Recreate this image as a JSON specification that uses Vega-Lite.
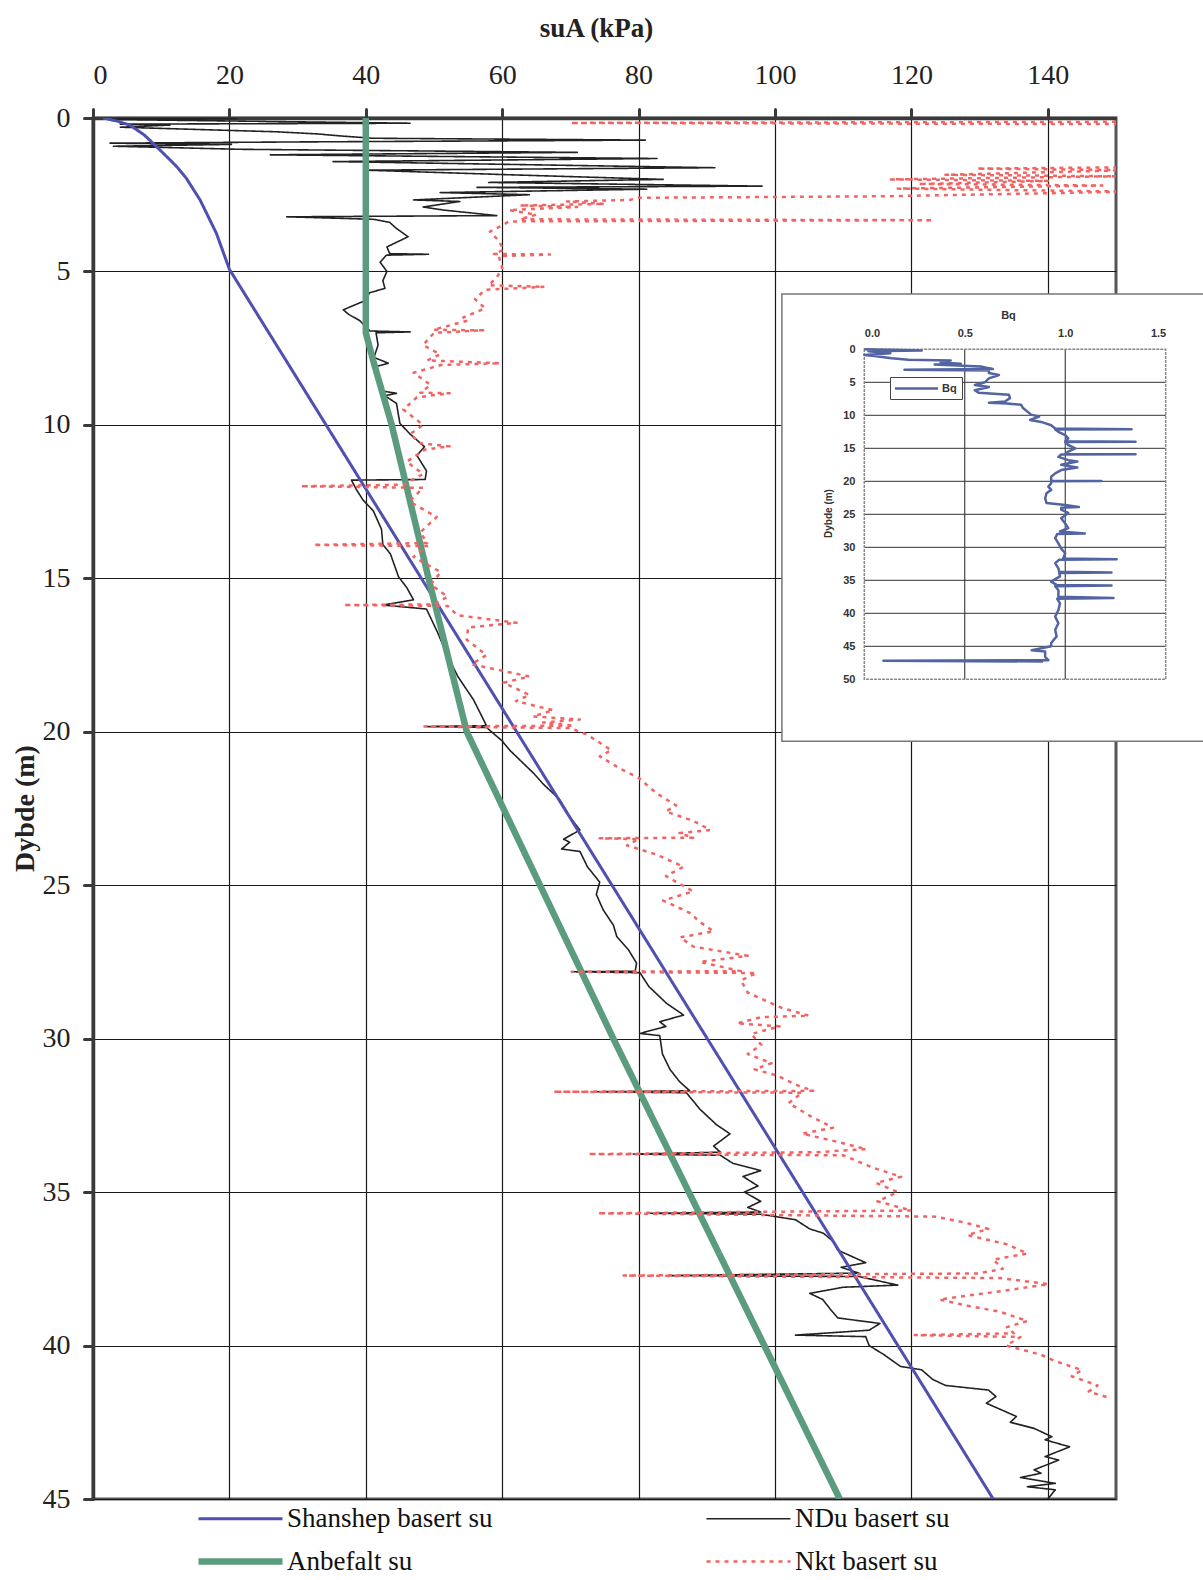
{
  "$schema": "https://vega.github.io/schema/vega-lite/v6.json",
  "autosize": {"type": "none"},
  "padding": {"left": 93, "top": 118, "right": 87, "bottom": 81},
  "width": 1023,
  "height": 1381,
  "background": "white",
  "config": {
    "view": {"stroke": "#555555", "strokeWidth": 3},
    "font": "Liberation Serif"
  },
  "resolve": {"scale": {"x": "independent", "y": "independent", "color": "independent", "strokeDash": "independent", "strokeWidth": "independent"}},
  "layer": [
    {
      "data": {"values": [
        {"k":"NDu basert su","su":2.5,"z":0},{"k":"NDu basert su","su":21,"z":0.02},{"k":"NDu basert su","su":3,"z":0.05},{"k":"NDu basert su","su":46.5,"z":0.17},{"k":"NDu basert su","su":4,"z":0.2},{"k":"NDu basert su","su":11.3,"z":0.23},{"k":"NDu basert su","su":4,"z":0.3},{"k":"NDu basert su","su":27,"z":0.45},{"k":"NDu basert su","su":33,"z":0.52},{"k":"NDu basert su","su":36,"z":0.58},{"k":"NDu basert su","su":41,"z":0.66},{"k":"NDu basert su","su":81,"z":0.72},{"k":"NDu basert su","su":30,"z":0.78},{"k":"NDu basert su","su":2.5,"z":0.82},{"k":"NDu basert su","su":20.3,"z":0.86},{"k":"NDu basert su","su":3,"z":0.92},{"k":"NDu basert su","su":21.6,"z":1.02},{"k":"NDu basert su","su":71,"z":1.12},{"k":"NDu basert su","su":26,"z":1.2},{"k":"NDu basert su","su":82.7,"z":1.32},{"k":"NDu basert su","su":35.2,"z":1.42},{"k":"NDu basert su","su":91.2,"z":1.62},{"k":"NDu basert su","su":40,"z":1.7},{"k":"NDu basert su","su":61.1,"z":1.85},{"k":"NDu basert su","su":83.6,"z":2.0},{"k":"NDu basert su","su":58,"z":2.1},{"k":"NDu basert su","su":98.1,"z":2.22},{"k":"NDu basert su","su":56.3,"z":2.26},{"k":"NDu basert su","su":81.2,"z":2.32},{"k":"NDu basert su","su":50.9,"z":2.43},{"k":"NDu basert su","su":64,"z":2.5},{"k":"NDu basert su","su":47,"z":2.67},{"k":"NDu basert su","su":53.8,"z":2.72},{"k":"NDu basert su","su":48.4,"z":2.9},{"k":"NDu basert su","su":51.4,"z":3.0},{"k":"NDu basert su","su":59.2,"z":3.18},{"k":"NDu basert su","su":28.4,"z":3.22},{"k":"NDu basert su","su":41.1,"z":3.3},{"k":"NDu basert su","su":43.5,"z":3.4},{"k":"NDu basert su","su":44.5,"z":3.6},{"k":"NDu basert su","su":46.2,"z":3.87},{"k":"NDu basert su","su":43.1,"z":4.2},{"k":"NDu basert su","su":43.5,"z":4.42},{"k":"NDu basert su","su":49.2,"z":4.44},{"k":"NDu basert su","su":43,"z":4.47},{"k":"NDu basert su","su":42.1,"z":4.7},{"k":"NDu basert su","su":43.1,"z":5.0},{"k":"NDu basert su","su":42.5,"z":5.3},{"k":"NDu basert su","su":42.8,"z":5.55},{"k":"NDu basert su","su":40.5,"z":5.7},{"k":"NDu basert su","su":40.1,"z":5.93},{"k":"NDu basert su","su":36.7,"z":6.25},{"k":"NDu basert su","su":37.5,"z":6.4},{"k":"NDu basert su","su":39.1,"z":6.6},{"k":"NDu basert su","su":40.6,"z":6.94},{"k":"NDu basert su","su":46.5,"z":6.97},{"k":"NDu basert su","su":41.5,"z":7.0},{"k":"NDu basert su","su":41.8,"z":7.4},{"k":"NDu basert su","su":41.2,"z":7.8},{"k":"NDu basert su","su":43.3,"z":7.99},{"k":"NDu basert su","su":41.5,"z":8.1},{"k":"NDu basert su","su":42.1,"z":8.54},{"k":"NDu basert su","su":42.5,"z":8.9},{"k":"NDu basert su","su":44.5,"z":8.97},{"k":"NDu basert su","su":42.8,"z":9.05},{"k":"NDu basert su","su":44.5,"z":9.3},{"k":"NDu basert su","su":45,"z":9.95},{"k":"NDu basert su","su":46.5,"z":10.3},{"k":"NDu basert su","su":48.6,"z":10.71},{"k":"NDu basert su","su":47.5,"z":11.0},{"k":"NDu basert su","su":48.9,"z":11.5},{"k":"NDu basert su","su":48.7,"z":11.78},{"k":"NDu basert su","su":37.9,"z":11.8},{"k":"NDu basert su","su":38.6,"z":12.1},{"k":"NDu basert su","su":39.6,"z":12.45},{"k":"NDu basert su","su":41.1,"z":12.8},{"k":"NDu basert su","su":42.3,"z":13.4},{"k":"NDu basert su","su":42.5,"z":13.9},{"k":"NDu basert su","su":43.6,"z":14.2},{"k":"NDu basert su","su":44.8,"z":14.95},{"k":"NDu basert su","su":46,"z":15.3},{"k":"NDu basert su","su":47,"z":15.7},{"k":"NDu basert su","su":42.5,"z":15.87},{"k":"NDu basert su","su":48.9,"z":16.0},{"k":"NDu basert su","su":50.6,"z":16.8},{"k":"NDu basert su","su":51.8,"z":17.44},{"k":"NDu basert su","su":53.5,"z":18.2},{"k":"NDu basert su","su":55.8,"z":18.96},{"k":"NDu basert su","su":57.7,"z":19.8},{"k":"NDu basert su","su":48.9,"z":19.83},{"k":"NDu basert su","su":57.7,"z":19.86},{"k":"NDu basert su","su":60,"z":20.3},{"k":"NDu basert su","su":61.1,"z":20.6},{"k":"NDu basert su","su":64.6,"z":21.35},{"k":"NDu basert su","su":66,"z":21.7},{"k":"NDu basert su","su":68.4,"z":22.2},{"k":"NDu basert su","su":70,"z":22.8},{"k":"NDu basert su","su":71.4,"z":23.2},{"k":"NDu basert su","su":69,"z":23.5},{"k":"NDu basert su","su":69.9,"z":23.6},{"k":"NDu basert su","su":68.7,"z":23.82},{"k":"NDu basert su","su":71.4,"z":23.9},{"k":"NDu basert su","su":72.5,"z":24.4},{"k":"NDu basert su","su":74.3,"z":24.9},{"k":"NDu basert su","su":73.8,"z":25.3},{"k":"NDu basert su","su":74.8,"z":25.8},{"k":"NDu basert su","su":76.3,"z":26.3},{"k":"NDu basert su","su":76.8,"z":26.67},{"k":"NDu basert su","su":78.5,"z":27.1},{"k":"NDu basert su","su":79.7,"z":27.54},{"k":"NDu basert su","su":79.5,"z":27.8},{"k":"NDu basert su","su":70.2,"z":27.82},{"k":"NDu basert su","su":80.2,"z":27.85},{"k":"NDu basert su","su":81.5,"z":28.3},{"k":"NDu basert su","su":84.1,"z":28.85},{"k":"NDu basert su","su":86.6,"z":29.23},{"k":"NDu basert su","su":83.1,"z":29.45},{"k":"NDu basert su","su":84,"z":29.6},{"k":"NDu basert su","su":80.2,"z":29.83},{"k":"NDu basert su","su":83.1,"z":29.9},{"k":"NDu basert su","su":83.5,"z":30.5},{"k":"NDu basert su","su":84.6,"z":31.0},{"k":"NDu basert su","su":86,"z":31.4},{"k":"NDu basert su","su":87.5,"z":31.7},{"k":"NDu basert su","su":73.4,"z":31.73},{"k":"NDu basert su","su":87,"z":31.76},{"k":"NDu basert su","su":89,"z":32.3},{"k":"NDu basert su","su":91.4,"z":32.8},{"k":"NDu basert su","su":93.4,"z":33.1},{"k":"NDu basert su","su":91,"z":33.5},{"k":"NDu basert su","su":92,"z":33.7},{"k":"NDu basert su","su":79.2,"z":33.76},{"k":"NDu basert su","su":92,"z":33.8},{"k":"NDu basert su","su":93.8,"z":34.06},{"k":"NDu basert su","su":97.9,"z":34.3},{"k":"NDu basert su","su":95.3,"z":34.49},{"k":"NDu basert su","su":97.5,"z":34.8},{"k":"NDu basert su","su":95.5,"z":35.0},{"k":"NDu basert su","su":97.9,"z":35.3},{"k":"NDu basert su","su":96,"z":35.5},{"k":"NDu basert su","su":97.9,"z":35.65},{"k":"NDu basert su","su":81.4,"z":35.69},{"k":"NDu basert su","su":97.9,"z":35.72},{"k":"NDu basert su","su":103,"z":35.9},{"k":"NDu basert su","su":105.1,"z":36.2},{"k":"NDu basert su","su":107.1,"z":36.34},{"k":"NDu basert su","su":108.5,"z":36.6},{"k":"NDu basert su","su":109.2,"z":36.89},{"k":"NDu basert su","su":113.3,"z":37.3},{"k":"NDu basert su","su":109.7,"z":37.45},{"k":"NDu basert su","su":112.3,"z":37.64},{"k":"NDu basert su","su":84.5,"z":37.72},{"k":"NDu basert su","su":112.3,"z":37.75},{"k":"NDu basert su","su":118,"z":38.03},{"k":"NDu basert su","su":110,"z":38.1},{"k":"NDu basert su","su":105.1,"z":38.3},{"k":"NDu basert su","su":107,"z":38.5},{"k":"NDu basert su","su":108.2,"z":38.84},{"k":"NDu basert su","su":109.2,"z":39.1},{"k":"NDu basert su","su":115.4,"z":39.28},{"k":"NDu basert su","su":113.8,"z":39.5},{"k":"NDu basert su","su":103,"z":39.66},{"k":"NDu basert su","su":113.3,"z":39.71},{"k":"NDu basert su","su":113.8,"z":40.0},{"k":"NDu basert su","su":116,"z":40.3},{"k":"NDu basert su","su":118.4,"z":40.68},{"k":"NDu basert su","su":121.5,"z":40.79},{"k":"NDu basert su","su":123.1,"z":41.1},{"k":"NDu basert su","su":125,"z":41.3},{"k":"NDu basert su","su":131.3,"z":41.45},{"k":"NDu basert su","su":132.4,"z":41.66},{"k":"NDu basert su","su":131,"z":41.88},{"k":"NDu basert su","su":135.4,"z":42.31},{"k":"NDu basert su","su":134.5,"z":42.5},{"k":"NDu basert su","su":138,"z":42.7},{"k":"NDu basert su","su":140.6,"z":42.97},{"k":"NDu basert su","su":139.6,"z":43.07},{"k":"NDu basert su","su":143.2,"z":43.3},{"k":"NDu basert su","su":139.6,"z":43.62},{"k":"NDu basert su","su":141.6,"z":43.73},{"k":"NDu basert su","su":138,"z":44.05},{"k":"NDu basert su","su":139,"z":44.16},{"k":"NDu basert su","su":136,"z":44.3},{"k":"NDu basert su","su":141.1,"z":44.49},{"k":"NDu basert su","su":137,"z":44.6},{"k":"NDu basert su","su":141.1,"z":44.7},{"k":"NDu basert su","su":140,"z":45.0},
        {"k":"Shanshep basert su","su":1.5,"z":0},{"k":"Shanshep basert su","su":3.5,"z":0.1},{"k":"Shanshep basert su","su":5.4,"z":0.23},{"k":"Shanshep basert su","su":7.5,"z":0.55},{"k":"Shanshep basert su","su":9.3,"z":0.93},{"k":"Shanshep basert su","su":11,"z":1.3},{"k":"Shanshep basert su","su":12.3,"z":1.59},{"k":"Shanshep basert su","su":13.7,"z":1.97},{"k":"Shanshep basert su","su":15.7,"z":2.67},{"k":"Shanshep basert su","su":18.1,"z":3.76},{"k":"Shanshep basert su","su":20,"z":4.93},{"k":"Shanshep basert su","su":132,"z":45},
        {"k":"Anbefalt su","su":40,"z":0},{"k":"Anbefalt su","su":40,"z":7},{"k":"Anbefalt su","su":41.2,"z":8},{"k":"Anbefalt su","su":42.5,"z":9},{"k":"Anbefalt su","su":43.8,"z":10},{"k":"Anbefalt su","su":46.5,"z":12.5},{"k":"Anbefalt su","su":49.2,"z":15},{"k":"Anbefalt su","su":52,"z":17.5},{"k":"Anbefalt su","su":54.8,"z":20},{"k":"Anbefalt su","su":76.3,"z":30},{"k":"Anbefalt su","su":109.5,"z":45},
        {"k":"Nkt basert su","su":160,"z":0},{"k":"Nkt basert su","su":160,"z":0.12},{"k":"Nkt basert su","su":70,"z":0.16},{"k":"Nkt basert su","su":152,"z":0.2},{"k":"Nkt basert su","su":160,"z":0.25},{"k":"Nkt basert su","su":170,"z":1.0},{"k":"Nkt basert su","su":155,"z":1.6},{"k":"Nkt basert su","su":129.6,"z":1.65},{"k":"Nkt basert su","su":152,"z":1.7},{"k":"Nkt basert su","su":125,"z":1.85},{"k":"Nkt basert su","su":150,"z":1.9},{"k":"Nkt basert su","su":117,"z":2.0},{"k":"Nkt basert su","su":140,"z":2.05},{"k":"Nkt basert su","su":121,"z":2.15},{"k":"Nkt basert su","su":148,"z":2.2},{"k":"Nkt basert su","su":118,"z":2.3},{"k":"Nkt basert su","su":152,"z":2.4},{"k":"Nkt basert su","su":116.4,"z":2.55},{"k":"Nkt basert su","su":80,"z":2.6},{"k":"Nkt basert su","su":78.7,"z":2.67},{"k":"Nkt basert su","su":69.5,"z":2.72},{"k":"Nkt basert su","su":75,"z":2.8},{"k":"Nkt basert su","su":62.6,"z":2.85},{"k":"Nkt basert su","su":71,"z":2.9},{"k":"Nkt basert su","su":61,"z":3.0},{"k":"Nkt basert su","su":65,"z":3.15},{"k":"Nkt basert su","su":62.6,"z":3.3},{"k":"Nkt basert su","su":123.2,"z":3.33},{"k":"Nkt basert su","su":61,"z":3.37},{"k":"Nkt basert su","su":60,"z":3.5},{"k":"Nkt basert su","su":58.2,"z":3.7},{"k":"Nkt basert su","su":59.5,"z":4.0},{"k":"Nkt basert su","su":60.2,"z":4.3},{"k":"Nkt basert su","su":58.8,"z":4.43},{"k":"Nkt basert su","su":67,"z":4.45},{"k":"Nkt basert su","su":59.5,"z":4.5},{"k":"Nkt basert su","su":60,"z":4.9},{"k":"Nkt basert su","su":59.2,"z":5.2},{"k":"Nkt basert su","su":58,"z":5.45},{"k":"Nkt basert su","su":66.2,"z":5.5},{"k":"Nkt basert su","su":57.5,"z":5.6},{"k":"Nkt basert su","su":56,"z":5.9},{"k":"Nkt basert su","su":57.5,"z":6.2},{"k":"Nkt basert su","su":54.3,"z":6.5},{"k":"Nkt basert su","su":55,"z":6.6},{"k":"Nkt basert su","su":49.9,"z":6.9},{"k":"Nkt basert su","su":57.2,"z":6.92},{"k":"Nkt basert su","su":50,"z":7.0},{"k":"Nkt basert su","su":48.4,"z":7.4},{"k":"Nkt basert su","su":50.9,"z":7.7},{"k":"Nkt basert su","su":49,"z":7.9},{"k":"Nkt basert su","su":59.7,"z":7.99},{"k":"Nkt basert su","su":51,"z":8.05},{"k":"Nkt basert su","su":47,"z":8.3},{"k":"Nkt basert su","su":49.5,"z":8.7},{"k":"Nkt basert su","su":48,"z":8.95},{"k":"Nkt basert su","su":52.3,"z":8.97},{"k":"Nkt basert su","su":47.5,"z":9.1},{"k":"Nkt basert su","su":45.5,"z":9.5},{"k":"Nkt basert su","su":48.4,"z":10.0},{"k":"Nkt basert su","su":46.5,"z":10.3},{"k":"Nkt basert su","su":48,"z":10.6},{"k":"Nkt basert su","su":52.3,"z":10.7},{"k":"Nkt basert su","su":48.7,"z":10.8},{"k":"Nkt basert su","su":46,"z":11.2},{"k":"Nkt basert su","su":48.4,"z":11.6},{"k":"Nkt basert su","su":45.5,"z":11.95},{"k":"Nkt basert su","su":30.4,"z":12.0},{"k":"Nkt basert su","su":48.4,"z":12.05},{"k":"Nkt basert su","su":46.4,"z":12.5},{"k":"Nkt basert su","su":50.4,"z":13.0},{"k":"Nkt basert su","su":48,"z":13.5},{"k":"Nkt basert su","su":49,"z":13.85},{"k":"Nkt basert su","su":32.3,"z":13.91},{"k":"Nkt basert su","su":49,"z":13.95},{"k":"Nkt basert su","su":47,"z":14.3},{"k":"Nkt basert su","su":51,"z":14.8},{"k":"Nkt basert su","su":49.5,"z":15.2},{"k":"Nkt basert su","su":52,"z":15.6},{"k":"Nkt basert su","su":50,"z":15.85},{"k":"Nkt basert su","su":36.7,"z":15.87},{"k":"Nkt basert su","su":52,"z":15.9},{"k":"Nkt basert su","su":53.4,"z":16.2},{"k":"Nkt basert su","su":62.1,"z":16.45},{"k":"Nkt basert su","su":55,"z":16.6},{"k":"Nkt basert su","su":54.8,"z":17.0},{"k":"Nkt basert su","su":57.7,"z":17.5},{"k":"Nkt basert su","su":55.5,"z":17.8},{"k":"Nkt basert su","su":64,"z":18.2},{"k":"Nkt basert su","su":60.2,"z":18.4},{"k":"Nkt basert su","su":64,"z":18.8},{"k":"Nkt basert su","su":62,"z":19.0},{"k":"Nkt basert su","su":67.5,"z":19.3},{"k":"Nkt basert su","su":64.5,"z":19.5},{"k":"Nkt basert su","su":71.4,"z":19.6},{"k":"Nkt basert su","su":66,"z":19.7},{"k":"Nkt basert su","su":70.5,"z":19.8},{"k":"Nkt basert su","su":48.6,"z":19.83},{"k":"Nkt basert su","su":70,"z":19.88},{"k":"Nkt basert su","su":72.5,"z":20.1},{"k":"Nkt basert su","su":76,"z":20.6},{"k":"Nkt basert su","su":74.3,"z":20.8},{"k":"Nkt basert su","su":77.3,"z":21.2},{"k":"Nkt basert su","su":80,"z":21.5},{"k":"Nkt basert su","su":82.6,"z":22.0},{"k":"Nkt basert su","su":85.5,"z":22.4},{"k":"Nkt basert su","su":84,"z":22.6},{"k":"Nkt basert su","su":88,"z":22.9},{"k":"Nkt basert su","su":90.5,"z":23.2},{"k":"Nkt basert su","su":86,"z":23.3},{"k":"Nkt basert su","su":88,"z":23.45},{"k":"Nkt basert su","su":74.3,"z":23.47},{"k":"Nkt basert su","su":80,"z":23.5},{"k":"Nkt basert su","su":78.3,"z":23.7},{"k":"Nkt basert su","su":82.6,"z":24.0},{"k":"Nkt basert su","su":86.6,"z":24.4},{"k":"Nkt basert su","su":84,"z":24.7},{"k":"Nkt basert su","su":88,"z":25.2},{"k":"Nkt basert su","su":83.6,"z":25.5},{"k":"Nkt basert su","su":87.5,"z":25.9},{"k":"Nkt basert su","su":89,"z":26.2},{"k":"Nkt basert su","su":91,"z":26.5},{"k":"Nkt basert su","su":86.1,"z":26.7},{"k":"Nkt basert su","su":88,"z":27.0},{"k":"Nkt basert su","su":96,"z":27.3},{"k":"Nkt basert su","su":89,"z":27.5},{"k":"Nkt basert su","su":95,"z":27.8},{"k":"Nkt basert su","su":70.2,"z":27.82},{"k":"Nkt basert su","su":97.3,"z":27.86},{"k":"Nkt basert su","su":95,"z":28.1},{"k":"Nkt basert su","su":96,"z":28.5},{"k":"Nkt basert su","su":101,"z":29.0},{"k":"Nkt basert su","su":105,"z":29.25},{"k":"Nkt basert su","su":98,"z":29.3},{"k":"Nkt basert su","su":94.4,"z":29.5},{"k":"Nkt basert su","su":100.7,"z":29.6},{"k":"Nkt basert su","su":96.5,"z":29.85},{"k":"Nkt basert su","su":98,"z":30.2},{"k":"Nkt basert su","su":96,"z":30.5},{"k":"Nkt basert su","su":99.5,"z":30.8},{"k":"Nkt basert su","su":97,"z":31.0},{"k":"Nkt basert su","su":100.3,"z":31.2},{"k":"Nkt basert su","su":103,"z":31.5},{"k":"Nkt basert su","su":105.6,"z":31.7},{"k":"Nkt basert su","su":67.5,"z":31.73},{"k":"Nkt basert su","su":104,"z":31.76},{"k":"Nkt basert su","su":102,"z":32.1},{"k":"Nkt basert su","su":105,"z":32.5},{"k":"Nkt basert su","su":108.5,"z":32.9},{"k":"Nkt basert su","su":104,"z":33.1},{"k":"Nkt basert su","su":108,"z":33.3},{"k":"Nkt basert su","su":113.4,"z":33.6},{"k":"Nkt basert su","su":106,"z":33.7},{"k":"Nkt basert su","su":72.6,"z":33.76},{"k":"Nkt basert su","su":110,"z":33.8},{"k":"Nkt basert su","su":114.3,"z":34.2},{"k":"Nkt basert su","su":118.5,"z":34.5},{"k":"Nkt basert su","su":114.8,"z":34.7},{"k":"Nkt basert su","su":118,"z":35.0},{"k":"Nkt basert su","su":115,"z":35.3},{"k":"Nkt basert su","su":120,"z":35.6},{"k":"Nkt basert su","su":74,"z":35.69},{"k":"Nkt basert su","su":123.6,"z":35.8},{"k":"Nkt basert su","su":128,"z":36.0},{"k":"Nkt basert su","su":131.3,"z":36.2},{"k":"Nkt basert su","su":128.2,"z":36.4},{"k":"Nkt basert su","su":134,"z":36.7},{"k":"Nkt basert su","su":137,"z":37.0},{"k":"Nkt basert su","su":132,"z":37.2},{"k":"Nkt basert su","su":133.4,"z":37.5},{"k":"Nkt basert su","su":129.8,"z":37.65},{"k":"Nkt basert su","su":77.8,"z":37.72},{"k":"Nkt basert su","su":133,"z":37.8},{"k":"Nkt basert su","su":140.1,"z":38.0},{"k":"Nkt basert su","su":134,"z":38.2},{"k":"Nkt basert su","su":124.1,"z":38.5},{"k":"Nkt basert su","su":128.2,"z":38.7},{"k":"Nkt basert su","su":133,"z":38.9},{"k":"Nkt basert su","su":137,"z":39.2},{"k":"Nkt basert su","su":134,"z":39.4},{"k":"Nkt basert su","su":135,"z":39.6},{"k":"Nkt basert su","su":120.5,"z":39.66},{"k":"Nkt basert su","su":136,"z":39.72},{"k":"Nkt basert su","su":133.9,"z":40.0},{"k":"Nkt basert su","su":139,"z":40.3},{"k":"Nkt basert su","su":141,"z":40.5},{"k":"Nkt basert su","su":145,"z":40.8},{"k":"Nkt basert su","su":143.5,"z":41.0},{"k":"Nkt basert su","su":147.3,"z":41.3},{"k":"Nkt basert su","su":146,"z":41.5},{"k":"Nkt basert su","su":149,"z":41.7}
      ]},
      "mark": {"type": "line", "clip": true, "strokeJoin": "round"},
      "encoding": {
        "x": {"field": "su", "type": "quantitative",
          "scale": {"domain": [0, 150], "nice": false, "zero": false},
          "axis": {"orient": "top", "values": [0, 20, 40, 60, 80, 100, 120, 140],
            "grid": true, "gridColor": "#1a1a1a", "gridWidth": 1.2,
            "domainColor": "#3a3a3a", "domainWidth": 3.5,
            "tickColor": "#3a3a3a", "tickWidth": 3, "tickSize": 9, "tickCap": "round",
            "labelFont": "Liberation Serif", "labelFontSize": 28, "labelColor": "#222222", "labelPadding": 20,
            "title": "suA (kPa)", "titleFont": "Liberation Serif", "titleFontSize": 27, "titleFontWeight": "bold",
            "titleColor": "#222222", "titleX": 503, "titleY": -90, "titleAlign": "center", "titleBaseline": "middle", "titleAngle": 0,
            "zindex": 0}},
        "y": {"field": "z", "type": "quantitative",
          "scale": {"domain": [0, 45], "reverse": true, "nice": false, "zero": false},
          "axis": {"orient": "left", "values": [0, 5, 10, 15, 20, 25, 30, 35, 40, 45],
            "grid": true, "gridColor": "#1a1a1a", "gridWidth": 1.2,
            "domainColor": "#3a3a3a", "domainWidth": 3.5,
            "tickColor": "#3a3a3a", "tickWidth": 3, "tickSize": 9, "tickCap": "round",
            "labelFont": "Liberation Serif", "labelFontSize": 28, "labelColor": "#222222", "labelPadding": 14,
            "title": "Dybde (m)", "titleFont": "Liberation Serif", "titleFontSize": 28, "titleFontWeight": "bold",
            "titleColor": "#222222", "titleX": -68, "titleY": 690, "titleAngle": 270, "titleAlign": "center", "titleBaseline": "middle",
            "zindex": 0}},
        "color": {"field": "k", "type": "nominal",
          "scale": {"domain": ["Shanshep basert su", "Anbefalt su", "NDu basert su", "Nkt basert su"],
                    "range": ["#5050b2", "#5c9c7e", "#222222", "#f26464"]},
          "legend": {"orient": "none", "legendX": 106, "legendY": 1387, "columns": 2, "columnPadding": 208, "rowPadding": 15,
            "padding": 0, "symbolType": "M-4.2,0H4.2", "symbolSize": 400, "symbolOffset": 28, "labelFont": "Liberation Serif", "labelFontSize": 27,
            "labelColor": "#111111", "labelOffset": 33, "labelLimit": 400, "title": null}},
        "strokeDash": {"field": "k", "type": "nominal",
          "scale": {"domain": ["Shanshep basert su", "Anbefalt su", "NDu basert su", "Nkt basert su"],
                    "range": [[1, 0], [1, 0], [1, 0], [4, 5]]},
          "legend": {"orient": "none", "legendX": 106, "legendY": 1387, "columns": 2, "columnPadding": 208, "rowPadding": 15,
            "padding": 0, "symbolType": "M-4.2,0H4.2", "symbolSize": 400, "symbolOffset": 28, "labelFont": "Liberation Serif", "labelFontSize": 27,
            "labelColor": "#111111", "labelOffset": 33, "labelLimit": 400, "title": null}},
        "strokeWidth": {"field": "k", "type": "nominal",
          "scale": {"type": "ordinal", "domain": ["Shanshep basert su", "Anbefalt su", "NDu basert su", "Nkt basert su"],
                    "range": [3, 6.5, 1.6, 2.5]},
          "legend": {"orient": "none", "legendX": 106, "legendY": 1387, "columns": 2, "columnPadding": 208, "rowPadding": 15,
            "padding": 0, "symbolType": "M-4.2,0H4.2", "symbolSize": 400, "symbolOffset": 28, "labelFont": "Liberation Serif", "labelFontSize": 27,
            "labelColor": "#111111", "labelOffset": 33, "labelLimit": 400, "title": null}},
        "order": {"value": null}
      }
    },
    {
      "data": {"values": [{}]},
      "mark": {"type": "rect", "fill": "white", "stroke": "#777777", "strokeWidth": 1.5},
      "encoding": {
        "x": {"datum": -0.41, "type": "quantitative", "scale": {"domain": [0, 1.5], "range": [771.3, 1072.7], "nice": false, "zero": false}, "axis": null},
        "x2": {"datum": 1.7},
        "y": {"datum": -8.38, "type": "quantitative", "scale": {"domain": [0, 50], "range": [231.3, 561.3], "nice": false, "zero": false}, "axis": null},
        "y2": {"datum": 59.4}
      }
    },
    {
      "data": {"values": [{"b": 0.5}, {"b": 1.0}]},
      "mark": {"type": "rule", "color": "#222222", "strokeWidth": 1},
      "encoding": {
        "x": {"field": "b", "type": "quantitative", "scale": {"domain": [0, 1.5], "range": [771.3, 1072.7], "nice": false, "zero": false}, "axis": null},
        "y": {"datum": 0, "type": "quantitative", "scale": {"domain": [0, 50], "range": [231.3, 561.3], "nice": false, "zero": false}, "axis": null},
        "y2": {"datum": 50}
      }
    },
    {
      "data": {"values": [{"d": 5}, {"d": 10}, {"d": 15}, {"d": 20}, {"d": 25}, {"d": 30}, {"d": 35}, {"d": 40}, {"d": 45}]},
      "mark": {"type": "rule", "color": "#333333", "strokeWidth": 1},
      "encoding": {
        "y": {"field": "d", "type": "quantitative", "scale": {"domain": [0, 50], "range": [231.3, 561.3], "nice": false, "zero": false}, "axis": null},
        "x": {"datum": 0, "type": "quantitative", "scale": {"domain": [0, 1.5], "range": [771.3, 1072.7], "nice": false, "zero": false}, "axis": null},
        "x2": {"datum": 1.5}
      }
    },
    {
      "data": {"values": [{}]},
      "mark": {"type": "rect", "filled": false, "stroke": "#888888", "strokeWidth": 1.5, "strokeDash": [3, 1]},
      "encoding": {
        "x": {"datum": 0, "type": "quantitative", "scale": {"domain": [0, 1.5], "range": [771.3, 1072.7], "nice": false, "zero": false}, "axis": null},
        "x2": {"datum": 1.5},
        "y": {"datum": 0, "type": "quantitative", "scale": {"domain": [0, 50], "range": [231.3, 561.3], "nice": false, "zero": false}, "axis": null},
        "y2": {"datum": 50}
      }
    },
    {
      "data": {"values": [
        {"bq":0.0,"z":0},{"bq":0.285,"z":0.2},{"bq":0.02,"z":0.3},{"bq":0.13,"z":0.6},{"bq":0.0,"z":0.86},{"bq":0.05,"z":1.0},{"bq":0.136,"z":1.36},{"bq":0.22,"z":1.6},{"bq":0.43,"z":1.7},{"bq":0.38,"z":2.0},{"bq":0.48,"z":2.2},{"bq":0.35,"z":2.3},{"bq":0.58,"z":2.6},{"bq":0.64,"z":3.0},{"bq":0.2,"z":3.1},{"bq":0.62,"z":3.2},{"bq":0.62,"z":3.6},{"bq":0.67,"z":3.9},{"bq":0.62,"z":4.4},{"bq":0.6,"z":5.0},{"bq":0.55,"z":5.4},{"bq":0.62,"z":5.7},{"bq":0.55,"z":6.2},{"bq":0.57,"z":6.6},{"bq":0.72,"z":6.9},{"bq":0.725,"z":7.4},{"bq":0.7,"z":7.9},{"bq":0.62,"z":8.1},{"bq":0.71,"z":8.2},{"bq":0.78,"z":8.4},{"bq":0.79,"z":8.9},{"bq":0.83,"z":9.9},{"bq":0.87,"z":10.2},{"bq":0.825,"z":10.7},{"bq":0.88,"z":11.0},{"bq":0.93,"z":11.5},{"bq":0.95,"z":12.0},{"bq":1.33,"z":12.1},{"bq":0.95,"z":12.15},{"bq":0.966,"z":12.5},{"bq":1.0,"z":13.0},{"bq":1.015,"z":13.5},{"bq":1.0,"z":13.95},{"bq":1.35,"z":14.0},{"bq":1.0,"z":14.05},{"bq":1.015,"z":14.5},{"bq":1.05,"z":15.0},{"bq":1.015,"z":15.5},{"bq":1.0,"z":15.85},{"bq":1.35,"z":15.9},{"bq":0.98,"z":15.95},{"bq":0.966,"z":16.3},{"bq":1.015,"z":16.8},{"bq":1.06,"z":17.0},{"bq":0.98,"z":17.5},{"bq":1.06,"z":17.9},{"bq":0.98,"z":18.3},{"bq":0.95,"z":18.8},{"bq":0.93,"z":19.3},{"bq":0.93,"z":19.9},{"bq":1.18,"z":19.95},{"bq":0.93,"z":20.0},{"bq":0.93,"z":20.3},{"bq":0.916,"z":20.8},{"bq":0.93,"z":21.3},{"bq":0.907,"z":21.8},{"bq":0.9,"z":22.6},{"bq":0.907,"z":23.3},{"bq":1.0,"z":23.6},{"bq":1.068,"z":23.9},{"bq":0.98,"z":24.0},{"bq":0.98,"z":24.3},{"bq":1.015,"z":24.8},{"bq":0.98,"z":25.6},{"bq":1.0,"z":26.4},{"bq":1.015,"z":27.1},{"bq":0.974,"z":27.6},{"bq":1.098,"z":27.9},{"bq":0.96,"z":28.0},{"bq":0.95,"z":28.6},{"bq":0.966,"z":29.4},{"bq":0.98,"z":30.2},{"bq":1.0,"z":30.9},{"bq":0.99,"z":31.7},{"bq":1.256,"z":31.8},{"bq":0.97,"z":31.9},{"bq":0.95,"z":32.4},{"bq":0.966,"z":33.2},{"bq":0.97,"z":33.7},{"bq":1.23,"z":33.8},{"bq":0.97,"z":33.9},{"bq":0.974,"z":34.4},{"bq":0.93,"z":35.2},{"bq":0.957,"z":35.7},{"bq":1.23,"z":35.8},{"bq":0.95,"z":35.9},{"bq":0.966,"z":36.5},{"bq":0.966,"z":37.5},{"bq":1.24,"z":37.7},{"bq":0.96,"z":37.8},{"bq":0.974,"z":38.5},{"bq":0.966,"z":39.5},{"bq":0.95,"z":40.5},{"bq":0.966,"z":41.5},{"bq":0.95,"z":42.5},{"bq":0.957,"z":43.5},{"bq":0.93,"z":44.5},{"bq":0.93,"z":45.0},{"bq":0.833,"z":45.6},{"bq":0.9,"z":45.8},{"bq":0.9,"z":46.6},{"bq":0.916,"z":47.1},{"bq":0.095,"z":47.2},{"bq":0.89,"z":47.3}
      ]},
      "mark": {"type": "line", "strokeWidth": 2.5, "strokeJoin": "round"},
      "encoding": {
        "x": {"field": "bq", "type": "quantitative",
          "scale": {"domain": [0, 1.5], "range": [771.3, 1072.7], "nice": false, "zero": false},
          "axis": {"orient": "top", "offset": -231, "values": [0, 0.5, 1, 1.5], "format": ".1f",
            "domain": false, "ticks": false, "tickSize": 0, "grid": false,
            "labelFont": "Liberation Sans", "labelFontWeight": "bold", "labelFontSize": 11, "labelColor": "#333333", "labelPadding": 11,
            "title": "Bq", "titleFont": "Liberation Sans", "titleFontWeight": "bold", "titleFontSize": 11, "titleColor": "#333333",
            "titleX": 915, "titleY": -31, "titleAlign": "center", "titleBaseline": "alphabetic", "zindex": 2}},
        "y": {"field": "z", "type": "quantitative",
          "scale": {"domain": [0, 50], "range": [231.3, 561.3], "nice": false, "zero": false},
          "axis": {"orient": "left", "offset": -771, "values": [0, 5, 10, 15, 20, 25, 30, 35, 40, 45, 50],
            "domain": false, "ticks": false, "tickSize": 0, "grid": false,
            "labelFont": "Liberation Sans", "labelFontWeight": "bold", "labelFontSize": 11, "labelColor": "#333333", "labelPadding": 9,
            "title": "Dybde (m)", "titleFont": "Liberation Sans", "titleFontWeight": "bold", "titleFontSize": 10, "titleColor": "#333333",
            "titleX": -36, "titleY": 395, "titleAngle": 270, "titleAlign": "center", "titleBaseline": "middle", "zindex": 2}},
        "color": {"datum": "Bq", "type": "nominal",
          "scale": {"domain": ["Bq"], "range": ["#5364a2"]},
          "legend": {"orient": "none", "legendX": 797, "legendY": 259, "strokeColor": "#444444", "fillColor": "white",
            "padding": 5, "symbolType": "M-4.3,0H4.3", "symbolSize": 100, "symbolOffset": 15, "symbolStrokeWidth": 2.5,
            "labelFont": "Liberation Sans", "labelFontWeight": "bold", "labelFontSize": 11, "labelColor": "#333333", "labelOffset": 19, "title": null}},
        "order": {"value": null}
      }
    }
  ]
}
